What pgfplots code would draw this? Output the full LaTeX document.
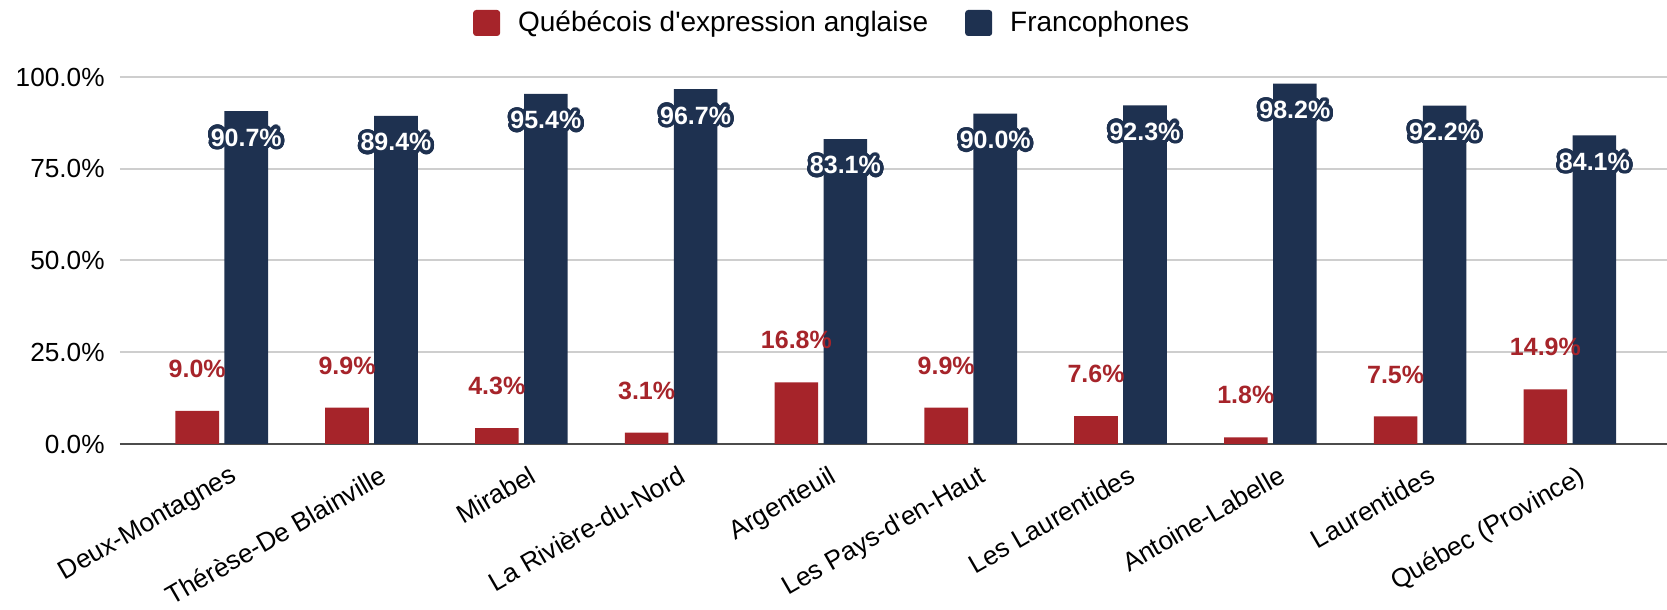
\documentclass[border=0pt]{standalone}
\usepackage{pgfplots}
\pgfplotsset{compat=1.18}
\usepackage{fontspec}
\setmainfont{Liberation Sans}
\usepackage{contour}
\contourlength{1.7pt}
\contournumber{40}
\definecolor{qred}{RGB}{166,36,42}
\definecolor{qnavy}{RGB}{30,49,80}
\definecolor{gridgray}{RGB}{206,206,206}
\newcommand{\ytickfont}{\fontsize{13.1}{16}\selectfont}
\newcommand{\xtickfont}{\fontsize{13.1}{16}\selectfont}
\newcommand{\legfont}{\fontsize{14}{17}\selectfont}
\newcommand{\lblfont}{\fontsize{12.5}{15}\selectfont\bfseries}
\begin{document}
\begin{tikzpicture}
\useasboundingbox (0,0) rectangle (833.5pt,305pt);
\begin{axis}[
  at={(60pt,83pt)}, anchor=south west,
  width=773.5pt, height=183.5pt, scale only axis,
  xmin=-0.679, xmax=9.648, ymin=0, ymax=100,
  ybar, bar width=21.8pt,
  axis x line*=bottom, axis y line*=left,
  y axis line style={draw=none},
  x axis line style={draw=black!70, line width=1pt, -},
  major tick length=0pt,
  ymajorgrids, grid style={draw=gridgray, line width=1pt},
  ytick={0,25,50,75,100},
  yticklabels={0.0\%,25.0\%,50.0\%,75.0\%,100.0\%},
  yticklabel style={font=\ytickfont, inner sep=0pt, xshift=-7.5pt},
  xtick={0,1,2,3,4,5,6,7,8,9},
  xticklabels={Deux-Montagnes, Thérèse-De Blainville, Mirabel, La Rivière-du-Nord, Argenteuil, Les Pays-d\textquotesingle en-Haut, Les Laurentides, Antoine-Labelle, Laurentides, Québec (Province)},
  xticklabel style={font=\xtickfont, rotate=30, anchor=north east, inner sep=0pt, xshift=-2pt, yshift=-10.5pt},
  legend style={at={(0.461,1)}, anchor=center, yshift=27pt, draw=none, fill=none, font=\legfont,
    legend columns=2,
    /tikz/every odd column/.append style={column sep=7pt},
    /tikz/every even column/.append style={column sep=16.5pt}},
  legend image code/.code={\fill[#1, rounded corners=1.5pt] (0pt,-6.5pt) rectangle (13.5pt,6.5pt);},
]
\addplot[fill=qred, draw=none, bar shift=-12.25pt,
  nodes near coords={\pgfmathprintnumber[fixed,fixed zerofill,precision=1,assume math mode=true]{\pgfplotspointmeta}\%},
  every node near coord/.append style={font=\lblfont, text=qred, anchor=center, yshift=21pt}]
  coordinates {(0,9.0) (1,9.9) (2,4.3) (3,3.1) (4,16.8) (5,9.9) (6,7.6) (7,1.8) (8,7.5) (9,14.9)};
\addlegendentry{Québécois d\textquotesingle expression anglaise}
\addplot[fill=qnavy, draw=none, bar shift=12.25pt,
  nodes near coords={\contour{qnavy}{\pgfmathprintnumber[fixed,fixed zerofill,precision=1,assume math mode=true]{\pgfplotspointmeta}\%}},
  every node near coord/.append style={font=\lblfont, text=white, anchor=center, yshift=-14pt}]
  coordinates {(0,90.7) (1,89.4) (2,95.4) (3,96.7) (4,83.1) (5,90.0) (6,92.3) (7,98.2) (8,92.2) (9,84.1)};
\addlegendentry{Francophones}
\end{axis}
\end{tikzpicture}
\end{document}
